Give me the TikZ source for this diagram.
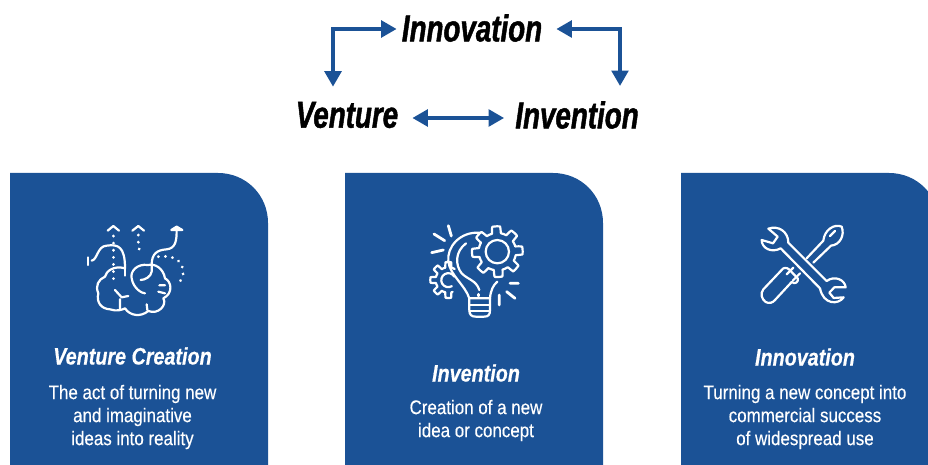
\documentclass[tikz,border=0pt]{standalone}
\usepackage{fontspec}
\setmainfont[FakeStretch=0.86,FakeBold=0.25]{Liberation Sans}
\newfontfamily\topfont[FakeStretch=0.74,FakeBold=1.2]{Liberation Sans}
\newfontfamily\headfont[FakeStretch=0.83,FakeBold=0.4]{Liberation Sans}
\usetikzlibrary{arrows.meta}
\definecolor{cardblue}{HTML}{1B5296}
\tikzset{
  cardbody/.style={fill=cardblue,draw=none},
  bigword/.style={font=\topfont\fontsize{37.5}{37.5}\selectfont\bfseries\itshape,text=black,inner sep=0pt},
  cardhead/.style={font=\headfont\fontsize{23.8}{24}\selectfont\bfseries\itshape,text=white,inner sep=0pt,align=center},
  cardtext/.style={font=\fontsize{19.7}{23}\selectfont,text=white,inner sep=0pt,align=center},
  link/.style={draw=cardblue,line width=4.6pt,{Triangle[length=15.5pt,width=16.5pt]}-{Triangle[length=15.5pt,width=16.5pt]}},
  ico/.style={draw=white,line width=2.2pt,line cap=round,line join=round},
  dots/.style={ico,line width=3pt,dash pattern=on 0.1pt off 7pt}
}
\begin{document}
\begin{tikzpicture}[x=1pt,y=-1pt]
\useasboundingbox (0,0) rectangle (928,465);
\clip (0,0) rectangle (928,465);
\foreach \cx in {10,345,681}{
  \fill[cardbody] (\cx,465) -- (\cx,173) -- ({\cx+208},173)
    .. controls ({\cx+236},173) and ({\cx+258},195) .. ({\cx+258},223) -- ({\cx+258},465) -- cycle;
}
\node[bigword] (inn) at (472,28) {Innovation};
\node[bigword] (ven) at (347,115) {Venture};
\node[bigword] (inv) at (577,115) {Invention};
\draw[link] ([xshift=-5pt,yshift=-1pt]inn.west) -| ([xshift=-14pt,yshift=15pt]ven.north);
\draw[link] ([xshift=14pt,yshift=-1pt]inn.east) -| ([xshift=43pt,yshift=15pt]inv.north);
\draw[link] ([xshift=14pt,yshift=-3pt]ven.east) -- ([xshift=-11pt,yshift=-3pt]inv.west);

\node[cardhead] (h1) at (132.5,356) {Venture Creation};
\node[cardtext] (t1) at (132.5,417) {The act of turning new\\and imaginative\\ideas into reality};
\node[cardhead] (h2) at (476,373) {Invention};
\node[cardtext] (t2) at (476,420.5) {Creation of a new\\idea or concept};
\node[cardhead] (h3) at (805,357) {Innovation};
\node[cardtext] (t3) at (805,417) {Turning a new concept into\\commercial success\\of widespread use};

% icon 1: brain with paths
\begin{scope}[shift={(70,210)},x=0.3333pt,y=-0.3333pt]
\draw[ico] (165,175) .. controls (130,165) and (108,185) .. (105,200)
  .. controls (85,208) and (75,228) .. (85,250)
  .. controls (78,278) and (95,297) .. (120,298)
  .. controls (140,305) and (155,300) .. (165,295)
  .. controls (180,318) and (212,322) .. (235,303)
  .. controls (265,315) and (292,285) .. (280,265)
  .. controls (310,250) and (305,215) .. (285,205)
  .. controls (280,175) and (255,160) .. (235,165)
  .. controls (200,160) and (180,185) .. (185,205)
  .. controls (190,235) and (215,250) .. (225,250);
\draw[ico] (245,165) -- (245,185) .. controls (243,200) and (225,210) .. (212,210);
\draw[ico] (150,298) -- (150,268) (135,240) -- (155,262) -- (175,258);
\draw[ico] (230,283) -- (232,300) (268,226) -- (285,226) (265,245) -- (285,250);
\draw[ico] (165,175) -- (165,197);
\draw[ico] (65,152) .. controls (82,150) and (82,108) .. (110,107)
  .. controls (145,102) and (165,110) .. (165,175);
\draw[ico] (55,142) -- (55,165);
\draw[ico] (245,165) .. controls (245,130) and (262,120) .. (290,118)
  .. controls (318,115) and (320,90) .. (320,60);
\draw[ico,fill=white] (304,60) -- (320,50) -- (337,60) -- cycle;
\draw[ico] (113,62) -- (130,48) -- (147,62) (187,62) -- (205,48) -- (222,62);
\draw[dots] (130,78) -- (130,210);
\draw[dots] (205,75) -- (205,112) -- (215,132);
\draw[dots] (265,140) .. controls (310,135) and (340,150) .. (340,190) -- (330,216);
\end{scope}

% icon 2: bulb with gears
\begin{scope}[shift={(410,210)},x=0.3333pt,y=-0.3333pt]
\draw[ico,smooth,samples=289,domain=0:360,shift={(262,125)}] plot (\x:{56+20*min(1,max(0,0.5+1.6*cos(8*\x+22)))});
\draw[ico] (262,125) circle [radius=35];
\draw[ico,smooth,samples=200,domain=70:300,shift={(115,210)}] plot (\x:{38+16*min(1,max(0,0.5+1.6*cos(8*\x)))});
\draw[ico] (133,200) arc [start angle=-30,end angle=-300,radius=21];
\draw[ico] (208,68) .. controls (150,65) and (110,110) .. (115,155)
  .. controls (120,195) and (165,225) .. (178,265) -- (240,265)
  .. controls (242,240) and (250,225) .. (262,215);
\draw[ico] (168,100) .. controls (135,125) and (135,165) .. (155,190)
  .. controls (175,210) and (198,210) .. (208,240);
\draw[ico] (178,265) -- (178,300) .. controls (178,315) and (185,320) .. (197,320) -- (222,320)
  .. controls (235,320) and (240,315) .. (240,300) -- (240,265);
\draw[ico] (178,285) -- (240,285) (178,303) -- (240,303);
\draw[ico,line width=2.8pt] (115,47) -- (124,78) (72,72) -- (104,92) (65,128) -- (100,120)
  (300,220) -- (325,220) (290,245) -- (315,265) (268,255) -- (268,285);
\draw[ico,line width=2.8pt] (205,253) -- (205,258);
\end{scope}

% icon 3: wrench and screwdriver
\begin{scope}[shift={(745,210)},x=0.3333pt,y=-0.3333pt]
\draw[ico] (70,56) .. controls (100,45) and (130,65) .. (130,98) -- (245,213)
  .. controls (270,195) and (300,210) .. (302,232)
  -- (268,232) -- (253,248) -- (266,264) -- (296,262)
  .. controls (280,285) and (235,285) .. (225,235)
  -- (107,115) .. controls (80,130) and (50,115) .. (50,90)
  -- (84,100) -- (98,80) -- cycle;
\draw[ico] (110,180) -- (55,238) .. controls (45,250) and (50,268) .. (62,276)
  .. controls (72,282) and (84,278) .. (90,270) -- (140,216);
\draw[ico] (110,180) .. controls (115,172) and (125,172) .. (132,178) -- (158,205)
  .. controls (162,215) and (150,225) .. (140,216);
\draw[ico] (125,193) -- (145,173) (143,212) -- (165,190);
\draw[ico] (185,145) -- (235,92) .. controls (238,60) and (268,40) .. (290,50)
  .. controls (300,75) and (285,105) .. (258,107) -- (205,158);
\draw[ico] (255,78) -- (270,63);
\end{scope}
\end{tikzpicture}
\end{document}
